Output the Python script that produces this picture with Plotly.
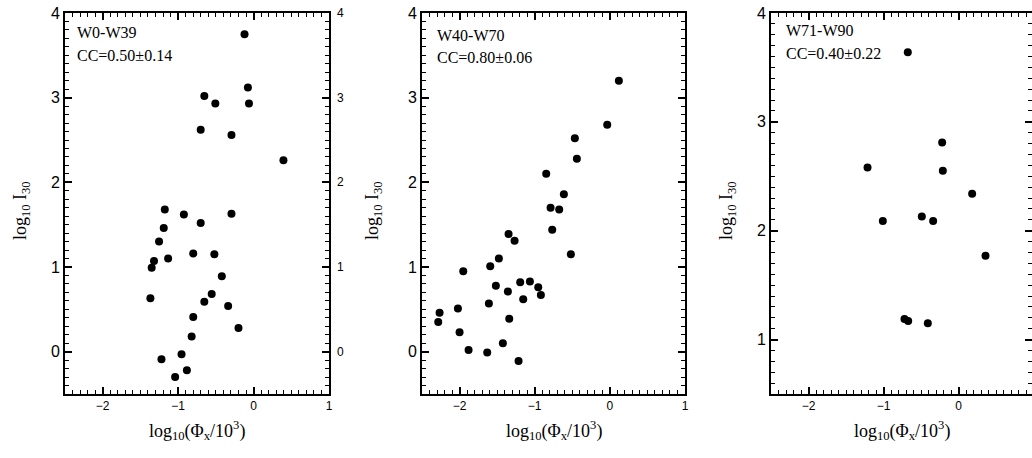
import plotly.graph_objects as go

# ---- data ----
p1_x = [-0.12, -0.653, -0.507, -0.075, -0.061, -0.701, -0.293, 0.396, -1.177, -0.924,
        -0.293, -0.701, -1.191, -1.253, -1.32, -1.351, -1.133, -0.80, -0.52, -0.421,
        -1.368, -0.555, -0.653, -0.337, -0.80, -0.20, -0.821, -1.221, -0.955, -0.884, -1.04]
p1_y = [3.75, 3.02, 2.93, 3.12, 2.93, 2.62, 2.56, 2.26, 1.68, 1.62,
        1.63, 1.52, 1.46, 1.30, 1.07, 0.99, 1.10, 1.16, 1.15, 0.89,
        0.63, 0.68, 0.59, 0.54, 0.41, 0.28, 0.18, -0.09, -0.03, -0.22, -0.30]

p2_x = [0.12, -0.035, -0.466, -0.439, -0.847, -0.612, -0.789, -0.674, -0.767,
        -1.348, -1.268, -0.519, -1.477, -1.592, -1.951, -1.517, -1.193, -1.064, -0.953,
        -1.357, -0.918, -1.153, -1.610, -2.022, -2.266, -2.284, -1.339, -2.0, -1.424,
        -1.880, -1.632, -1.215]
p2_y = [3.20, 2.68, 2.52, 2.28, 2.10, 1.86, 1.70, 1.68, 1.44,
        1.39, 1.31, 1.15, 1.10, 1.01, 0.95, 0.78, 0.82, 0.83, 0.76,
        0.71, 0.67, 0.62, 0.57, 0.51, 0.46, 0.35, 0.39, 0.23, 0.10,
        0.02, -0.01, -0.11]

p3_x = [-0.676, -0.218, -1.213, -0.209, 0.182, -0.489, -1.009, -0.338, 0.36, -0.72, -0.671, -0.409]
p3_y = [3.64, 2.81, 2.58, 2.55, 2.34, 2.13, 2.09, 2.09, 1.77, 1.19, 1.17, 1.15]

labels = ["W0-W39", "W40-W70", "W71-W90"]
cc_text = ["CC=0.50±0.14", "CC=0.80±0.06", "CC=0.40±0.22"]
y_ranges = [[-0.5, 4], [-0.5, 4], [0.5, 4]]
x_ranges = [[-2.5, 1], [-2.5, 1], [-2.5, 0.98]]
right_tick_vals = [0, 1, 2, 3, 4]

W, H = 1032, 458
domains = [[65 / W, 329 / W], [422 / W, 685 / W], [771 / W, 1.0]]
ytitle_x = [21 / W, 373 / W, 727 / W]
label_x = [75 / W, 435 / W, 784 / W]
label_y = [(0.948, 0.888), (0.942, 0.882), (0.955, 0.895)]

serif = "Liberation Serif, Times New Roman, serif"
sans = "Liberation Sans, Arial, sans-serif"

fig = go.Figure()
for i, (xs, ys) in enumerate([(p1_x, p1_y), (p2_x, p2_y), (p3_x, p3_y)]):
    sfx = "" if i == 0 else str(i + 1)
    fig.add_trace(go.Scatter(x=xs, y=ys, mode="markers", marker=dict(color="black", size=8),
                             xaxis="x" + sfx, yaxis="y" + sfx, showlegend=False,
                             hoverinfo="x+y"))


def axis_style():
    return dict(showline=True, linecolor="#000000", linewidth=2, mirror="ticks",
                ticks="inside", ticklen=7, tickwidth=1.5, tickcolor="#000000",
                minor=dict(ticks="inside", ticklen=4, dtick=0.1, tick0=0,
                           tickcolor="#000000", tickwidth=1, showgrid=False),
                showgrid=False, zeroline=False, dtick=1, tick0=0, tickmode="linear")


layout = dict(width=W, height=H, margin=dict(l=0, r=0, t=13, b=64),
              showlegend=False, template="none")

xtitle = "log<sub>10</sub>(Φ<sub>x</sub>/10<sup>3</sup>)"
ytitle = "log<sub>10</sub> I<sub>30</sub>"
title_font = dict(family=serif, size=18, color="black")
text_font = dict(family=serif, size=16, color="black")
annotations = []
for i in range(3):
    sfx = "" if i == 0 else str(i + 1)
    xa = axis_style()
    xa.update(domain=domains[i], range=x_ranges[i], anchor="y" + sfx,
              tickfont=dict(family=sans, size=12, color="black"))
    ya = axis_style()
    ya.update(domain=[0, 1], range=y_ranges[i], anchor="x" + sfx,
              tickfont=dict(family=sans, size=16, color="black"))
    layout["xaxis" + sfx] = xa
    layout["yaxis" + sfx] = ya
    # axis titles (paper coordinates)
    annotations.append(dict(xref="paper", yref="paper", x=sum(domains[i]) / 2, y=-0.095,
                            xanchor="center", yanchor="middle", text=xtitle,
                            showarrow=False, font=title_font))
    annotations.append(dict(xref="paper", yref="paper", x=ytitle_x[i], y=0.48,
                            xanchor="center", yanchor="middle", text=ytitle, textangle=-90,
                            showarrow=False, font=title_font))
    # panel labels
    annotations.append(dict(xref="paper", yref="paper", x=label_x[i], y=label_y[i][0],
                            xanchor="left", yanchor="middle", text=labels[i],
                            showarrow=False, font=text_font))
    annotations.append(dict(xref="paper", yref="paper", x=label_x[i], y=label_y[i][1],
                            xanchor="left", yanchor="middle", text=cc_text[i],
                            showarrow=False, font=text_font))

# right-hand tick labels of the first panel
lo, hi = y_ranges[0]
for v in right_tick_vals:
    annotations.append(dict(xref="paper", yref="paper", x=335 / W, y=(v - lo) / (hi - lo),
                            xanchor="left", yanchor="middle", text=str(v),
                            showarrow=False, font=dict(family=sans, size=12, color="black")))

layout["annotations"] = annotations
fig.update_layout(**layout)
fig.write_html("out.html")
